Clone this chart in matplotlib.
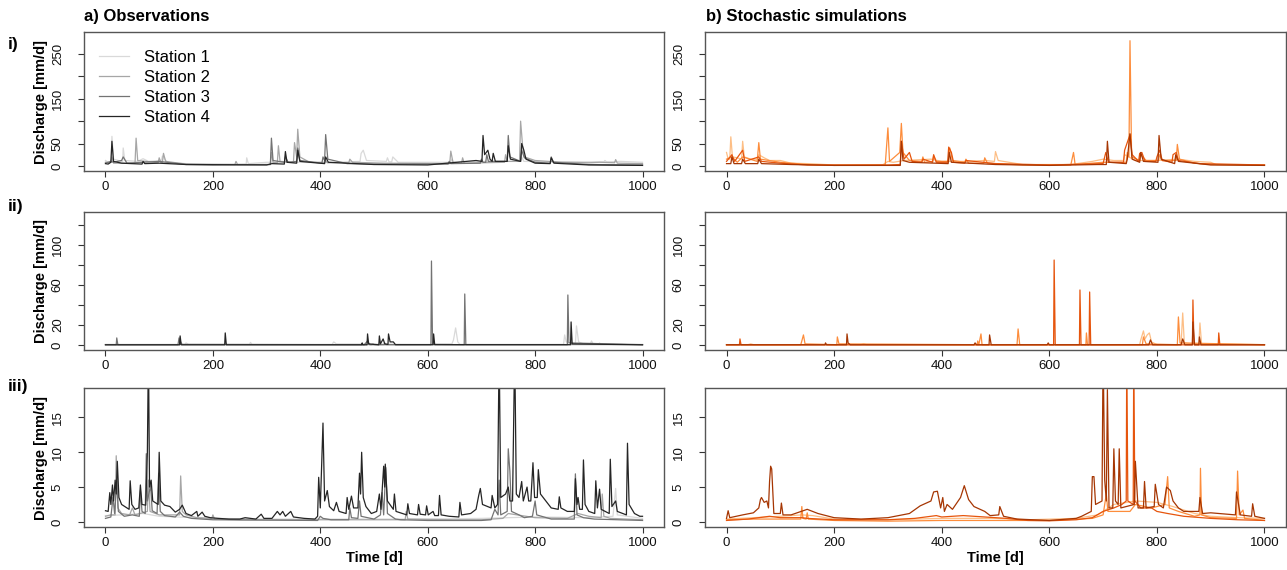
import numpy as np
import matplotlib
matplotlib.use('Agg')
import matplotlib.pyplot as plt

plt.rcParams['font.family'] = ['Liberation Sans', 'DejaVu Sans']

days_ticks = [0, 200, 400, 600, 800, 1000]
station_names = ['Station 1', 'Station 2', 'Station 3', 'Station 4']
obs_colors = ['#d9d9d9', '#a6a6a6', '#737373', '#252525']
sim_colors = ['#fdbe85', '#fd8d3c', '#e6550d', '#a63603']

# (day, discharge) knots, one list per station
# --- row i ---
obs_i_s1 = [(0, 12), (5, 8), (11, 8), (12, 66), (15, 15), (30, 10), (32, 10), (33, 40), (36, 12), (60, 10),
            (70, 16), (80, 10), (104, 12), (106, 22), (115, 8), (150, 5), (200, 3), (262, 4), (263, 18),
            (266, 5), (300, 8), (360, 8), (400, 7), (474, 10), (476, 28), (480, 35), (486, 12), (523, 10),
            (525, 18), (528, 9), (533, 9), (535, 20), (545, 8), (643, 8), (645, 15), (648, 8), (700, 10),
            (772, 10), (775, 20), (779, 10), (850, 9), (900, 9), (928, 9), (930, 12), (933, 9), (960, 10),
            (1000, 8)]
obs_i_s2 = [(0, 8), (10, 8), (12, 20), (15, 6), (55, 6), (57, 62), (60, 12), (98, 7), (100, 18), (103, 8),
            (106, 8), (108, 28), (112, 10), (150, 4), (241, 3), (243, 10), (246, 3), (307, 3), (309, 30),
            (312, 8), (320, 7), (322, 45), (325, 10), (350, 8), (352, 52), (356, 20), (358, 82), (362, 20),
            (380, 8), (408, 8), (410, 12), (413, 7), (453, 7), (455, 15), (460, 8), (520, 6), (641, 5),
            (643, 33), (647, 8), (663, 6), (665, 18), (668, 6), (743, 8), (745, 25), (748, 10), (771, 10),
            (773, 100), (777, 40), (780, 20), (800, 12), (850, 8), (900, 7), (920, 8), (948, 7), (950, 14),
            (953, 6), (1000, 5)]
obs_i_s3 = [(0, 6), (10, 10), (15, 8), (30, 12), (33, 20), (40, 6), (100, 10), (150, 3), (200, 2), (307, 3),
            (309, 62), (312, 12), (333, 8), (335, 20), (340, 8), (356, 10), (358, 40), (362, 12), (403, 6),
            (405, 20), (408, 12), (410, 70), (414, 15), (450, 5), (500, 4), (638, 4), (640, 10), (643, 5),
            (698, 6), (700, 15), (703, 8), (708, 8), (710, 25), (713, 10), (748, 10), (750, 68), (753, 20),
            (773, 10), (775, 35), (780, 18), (800, 8), (828, 6), (830, 20), (834, 8), (900, 3), (1000, 2)]
obs_i_s4 = [(0, 5), (5, 4), (10, 8), (12, 55), (15, 10), (30, 6), (68, 4), (70, 10), (73, 5), (100, 6),
            (150, 3), (300, 2), (310, 5), (333, 4), (335, 32), (338, 8), (356, 6), (358, 35), (362, 10),
            (408, 5), (410, 20), (415, 8), (500, 3), (600, 2), (690, 12), (701, 10), (703, 68), (706, 25),
            (712, 35), (716, 15), (720, 10), (722, 28), (726, 10), (748, 10), (750, 45), (754, 15), (773, 10),
            (775, 50), (779, 35), (783, 15), (800, 6), (828, 5), (830, 18), (835, 6), (900, 2), (1000, 1)]

sim_i_s1 = [(0, 30), (3, 15), (6, 15), (8, 65), (11, 20), (20, 18), (28, 15), (30, 55), (33, 20), (45, 15),
            (58, 15), (60, 25), (70, 18), (80, 12), (100, 12), (120, 6), (150, 5), (200, 2), (290, 2), (300, 10),
            (310, 8), (330, 12), (380, 15), (400, 10), (445, 10), (480, 12), (498, 10), (500, 32), (505, 12),
            (550, 3), (640, 3), (680, 10), (700, 15), (720, 12), (738, 12), (740, 25), (760, 12), (800, 12),
            (840, 15), (870, 10), (900, 8), (910, 3), (1000, 2)]
sim_i_s2 = [(0, 15), (10, 20), (20, 8), (30, 20), (57, 10), (60, 52), (63, 15), (100, 8), (150, 3), (200, 1),
            (295, 2), (300, 85), (303, 10), (322, 30), (325, 95), (328, 30), (340, 12), (363, 10), (365, 20),
            (368, 8), (383, 10), (385, 22), (390, 10), (413, 10), (415, 40), (420, 12), (443, 8), (445, 15),
            (450, 6), (478, 6), (480, 18), (485, 6), (550, 2), (640, 2), (645, 30), (648, 3), (700, 8),
            (743, 8), (745, 30), (748, 20), (750, 280), (753, 20), (768, 12), (770, 25), (780, 12), (803, 12),
            (805, 25), (810, 12), (836, 12), (838, 48), (842, 15), (870, 6), (900, 3), (1000, 2)]
sim_i_s3 = [(0, 10), (10, 25), (15, 10), (30, 35), (34, 10), (60, 20), (65, 10), (100, 6), (150, 2), (300, 2),
            (323, 3), (325, 55), (330, 15), (340, 30), (345, 10), (363, 8), (365, 15), (383, 8), (385, 25),
            (390, 8), (411, 8), (413, 42), (418, 30), (422, 8), (443, 6), (445, 12), (500, 5), (600, 2),
            (700, 5), (705, 30), (710, 8), (738, 8), (740, 35), (750, 70), (754, 25), (766, 10), (768, 28),
            (772, 30), (778, 10), (798, 10), (800, 20), (805, 35), (810, 12), (828, 8), (830, 25), (836, 30),
            (840, 12), (880, 5), (1000, 2)]
sim_i_s4 = [(0, 5), (8, 5), (10, 20), (14, 5), (28, 5), (30, 15), (35, 5), (58, 5), (60, 15), (65, 5),
            (120, 3), (200, 1), (300, 1), (323, 1), (325, 55), (328, 12), (340, 8), (412, 5), (414, 30),
            (418, 8), (500, 3), (600, 1), (690, 3), (706, 3), (708, 55), (711, 8), (743, 5), (745, 15),
            (750, 72), (754, 15), (768, 8), (770, 30), (775, 10), (802, 8), (804, 68), (808, 15), (833, 5),
            (835, 25), (840, 10), (900, 2), (1000, 1)]

# --- row ii ---
obs_ii_s1 = [(0, 0.5), (148, 0.5), (150, 2), (155, 0.5), (268, 0.5), (270, 2.5), (273, 0.5), (422, 0.5),
             (425, 3), (430, 1), (600, 0.5), (645, 1), (648, 5), (652, 17), (656, 3), (660, 0.5), (853, 0.5),
             (855, 10), (858, 3), (875, 1), (877, 19), (881, 3), (890, 1), (903, 1), (905, 4), (908, 1),
             (918, 0.5), (920, 2), (922, 0.5), (1000, 0.5)]
obs_ii_s2 = [(0, 0.3), (138, 0.3), (140, 3), (143, 0.3), (496, 0.3), (498, 1), (500, 0.3), (518, 0.3),
             (520, 2), (523, 0.3), (1000, 0.3)]
obs_ii_s3 = [(0, 0.2), (20, 0.2), (21, 7), (23, 0.2), (135, 0.2), (137, 7), (139, 0.5), (482, 0.2), (488, 4),
             (492, 0.2), (606, 0.2), (607, 84), (609, 0.5), (668, 0.2), (669, 51), (671, 0.3), (860, 0.2),
             (861, 50), (863, 2), (1000, 0.2)]
obs_ii_s4 = [(0, 0.1), (138, 0.1), (139, 9), (141, 0.1), (222, 0.1), (223, 12), (225, 0.1), (477, 0.1),
             (478, 2), (479, 0.1), (487, 0.1), (488, 11), (490, 1), (509, 0.1), (510, 9), (512, 1), (517, 6),
             (520, 1), (526, 0.5), (527, 11), (530, 3), (536, 3), (540, 0.2), (610, 0.2), (611, 11), (613, 0.2),
             (866, 0.2), (867, 23), (869, 1), (1000, 0.1)]

sim_ii_s1 = [(0, 0.3), (40, 0.3), (45, 1), (50, 0.3), (250, 0.3), (255, 1), (260, 0.3), (768, 0.3), (770, 5),
             (775, 14), (778, 6), (782, 10), (786, 12), (790, 3), (800, 0.3), (845, 0.3), (848, 32), (851, 2),
             (878, 0.3), (880, 22), (883, 1), (1000, 0.3)]
sim_ii_s2 = [(0, 0.2), (138, 0.2), (140, 4), (143, 10), (146, 1), (205, 0.2), (206, 8), (209, 1), (466, 0.2),
             (467, 4), (469, 0.2), (473, 11), (475, 0.2), (540, 0.2), (542, 16), (545, 0.2), (668, 0.2),
             (669, 12), (671, 0.2), (773, 0.2), (775, 8), (780, 1), (838, 0.2), (840, 28), (843, 2), (1000, 0.2)]
sim_ii_s3 = [(0, 0.1), (24, 0.1), (25, 6), (27, 0.1), (608, 0.1), (609, 85), (611, 0.1), (656, 0.1), (657, 55),
             (659, 0.1), (674, 0.1), (675, 53), (677, 0.1), (866, 0.1), (867, 45), (869, 0.1), (914, 0.1),
             (915, 12), (917, 0.1), (1000, 0.1)]
sim_ii_s4 = [(0, 0.1), (183, 0.1), (184, 2), (186, 0.1), (223, 0.1), (224, 11), (226, 2), (230, 0.1), (460, 0.1),
             (462, 2), (465, 0.1), (488, 0.1), (489, 10), (492, 0.1), (596, 0.1), (598, 2), (600, 0.1),
             (785, 0.1), (788, 5), (792, 0.1), (845, 0.1), (848, 6), (852, 0.1), (866, 0.1), (867, 23),
             (870, 0.1), (878, 0.1), (879, 8), (882, 0.1), (1000, 0.1)]

# --- row iii ---
obs_iii_s1 = [(0, 0.9), (30, 1.0), (70, 1.2), (100, 0.8), (200, 0.5), (300, 0.4), (400, 0.4), (500, 0.4),
              (600, 0.4), (700, 0.5), (800, 0.7), (900, 0.6), (945, 0.8), (950, 4.8), (953, 1), (1000, 0.5)]
obs_iii_s2 = [(0, 0.8), (10, 1), (18, 1), (20, 9.5), (23, 2), (30, 1.2), (45, 1), (50, 2), (55, 1), (78, 1.5),
              (80, 6), (83, 1.5), (100, 1), (138, 1), (140, 6.6), (143, 1.5), (150, 1), (170, 0.6), (198, 0.5),
              (200, 1.0), (203, 0.4), (250, 0.3), (350, 0.3), (400, 0.3), (500, 0.3), (558, 0.3), (560, 1.5),
              (563, 0.4), (650, 0.3), (700, 0.3), (740, 0.5), (750, 1.2), (800, 0.6), (860, 0.5), (880, 1.2),
              (900, 0.8), (923, 0.6), (925, 4), (928, 0.8), (940, 0.5), (1000, 0.3)]
obs_iii_s3 = [(0, 0.5), (10, 0.7), (14, 3.5), (17, 1.2), (21, 5.8), (24, 1.5), (35, 0.8), (50, 1), (63, 0.8),
              (65, 4.5), (68, 1.5), (74, 1.2), (76, 9.8), (78, 3), (84, 5.2), (87, 1.6), (96, 1.2), (99, 7),
              (102, 1.5), (110, 0.9), (130, 0.7), (138, 1.4), (145, 0.8), (160, 0.5), (200, 0.3), (300, 0.25),
              (395, 0.2), (400, 0.8), (405, 0.5), (420, 0.3), (453, 0.3), (455, 2.0), (458, 0.6), (470, 0.5),
              (473, 3), (476, 0.8), (500, 0.4), (512, 1), (515, 4.2), (518, 1), (522, 7.8), (525, 1.2),
              (540, 0.4), (550, 0.3), (600, 0.2), (700, 0.2), (718, 0.3), (725, 1.8), (731, 1), (733, 6),
              (736, 1), (748, 1.5), (750, 10.5), (753, 7.3), (756, 1.5), (770, 1), (780, 0.6), (795, 0.8),
              (800, 3), (803, 1), (830, 0.4), (873, 0.4), (875, 6.9), (878, 1), (890, 0.6), (910, 0.4),
              (1000, 0.2)]
obs_iii_s4 = [(0, 1.6), (5, 1.5), (8, 4.2), (10, 2.5), (13, 5.3), (15, 3), (18, 6.0), (20, 4), (22, 8.7),
              (25, 3.5), (30, 2.5), (44, 1.8), (46, 5.9), (49, 2.5), (55, 1.8), (62, 2), (65, 5.3), (68, 2.5),
              (75, 2.4), (78, 10), (80, 25), (82, 5), (85, 6), (88, 3), (98, 2.5), (100, 10), (103, 3),
              (110, 2.4), (120, 2.2), (130, 1.4), (138, 1.8), (143, 2.4), (150, 1.2), (160, 0.9), (170, 1.5),
              (172, 0.8), (180, 1.4), (185, 0.8), (195, 0.6), (210, 0.5), (230, 0.4), (250, 0.4), (260, 0.6),
              (280, 0.4), (290, 1.1), (295, 0.5), (310, 0.5), (320, 1.5), (325, 1.0), (330, 1.5), (335, 0.8),
              (345, 1.5), (350, 0.7), (370, 0.5), (390, 0.4), (395, 0.8), (397, 6.4), (400, 2), (405, 14.2),
              (408, 3), (413, 4.5), (417, 2.2), (425, 1.6), (430, 2.8), (435, 1.5), (448, 1.2), (450, 3.5),
              (453, 1.8), (458, 3.7), (462, 2), (470, 2), (473, 7), (475, 4), (477, 10), (480, 3.5), (485, 2.2),
              (490, 1.7), (495, 1.2), (505, 1.5), (510, 4.0), (513, 1.8), (518, 8), (520, 5), (521, 8.3),
              (525, 3), (536, 1.8), (538, 4), (541, 1.5), (561, 1.0), (563, 2.6), (566, 1.2), (581, 1.0),
              (583, 2.5), (586, 1.1), (596, 1.0), (598, 2.3), (601, 1.0), (610, 1.5), (613, 0.9), (620, 0.9),
              (622, 3.8), (625, 1.0), (640, 0.8), (658, 0.7), (660, 2.8), (663, 1.0), (680, 1.2), (690, 1.8),
              (695, 3.8), (698, 4.8), (702, 2.5), (718, 2), (720, 3.8), (725, 2), (730, 2.5), (733, 25),
              (736, 3.5), (745, 4), (750, 5), (753, 3), (758, 3), (762, 25), (765, 4), (770, 3.5), (775, 5.8),
              (778, 3), (785, 5), (788, 3), (792, 3), (796, 8.5), (799, 3.5), (804, 3.5), (806, 7.5), (810, 4),
              (815, 3.5), (820, 3.0), (830, 2), (843, 1.8), (845, 3.6), (848, 2), (860, 1.5), (873, 1.5),
              (875, 6.2), (878, 2.5), (880, 3.5), (883, 1.8), (888, 1.8), (890, 8.9), (893, 2.5), (900, 1.5),
              (911, 1.2), (913, 5.9), (916, 2), (920, 4.7), (923, 1.8), (938, 1.2), (940, 9), (943, 2.2),
              (950, 3), (953, 1.5), (970, 1), (972, 11.3), (975, 2.5), (985, 1.2), (995, 0.8), (1000, 0.8)]

sim_iii_s1 = [(0, 0.4), (50, 0.6), (100, 0.8), (140, 1.0), (160, 0.9), (200, 0.4), (300, 0.3), (400, 0.5),
              (500, 0.5), (560, 0.3), (650, 0.5), (690, 1), (720, 2.5), (760, 3), (800, 2.8), (830, 2.2),
              (870, 1.2), (900, 0.8), (950, 0.6), (1000, 0.5)]
sim_iii_s2 = [(0, 0.3), (50, 0.4), (100, 0.4), (138, 0.4), (140, 2.2), (142, 0.5), (148, 0.4), (150, 1.3),
              (152, 0.4), (200, 0.2), (300, 0.1), (400, 0.2), (500, 0.2), (600, 0.2), (680, 0.5), (700, 1),
              (706, 4), (709, 1.5), (750, 1.5), (760, 2.5), (790, 2), (815, 2.5), (820, 6.5), (823, 2),
              (840, 1.5), (870, 0.8), (880, 1), (881, 7.7), (883, 1), (900, 0.6), (948, 0.5), (950, 7.3),
              (953, 1), (960, 1.7), (963, 0.5), (1000, 0.2)]
sim_iii_s3 = [(0, 0.2), (40, 0.4), (80, 0.8), (100, 0.6), (140, 0.6), (150, 0.5), (200, 0.3), (300, 0.3),
              (350, 0.5), (390, 0.9), (400, 0.7), (440, 0.9), (480, 0.7), (520, 0.5), (560, 0.2), (600, 0.15),
              (650, 0.3), (680, 0.6), (700, 1.5), (720, 2), (735, 2.5), (743, 3), (744, 25), (746, 3),
              (756, 2.5), (757, 25), (759, 3), (770, 2), (790, 2), (800, 1.5), (820, 1.2), (850, 0.8),
              (900, 0.5), (950, 0.3), (1000, 0.2)]
sim_iii_s4 = [(0, 0.5), (3, 1.6), (6, 0.6), (30, 1.0), (50, 1.3), (60, 2.0), (63, 3.2), (65, 3.5), (70, 2.8),
              (75, 3.0), (78, 2.0), (80, 5.8), (82, 8.0), (84, 7.6), (88, 1.2), (100, 1.2), (102, 2.7),
              (105, 1.0), (120, 1.0), (150, 1.8), (170, 1.2), (200, 0.6), (250, 0.4), (300, 0.6), (340, 1.2),
              (360, 2.3), (380, 3.0), (385, 4.3), (392, 4.4), (398, 2.0), (402, 3.5), (405, 1.5), (410, 2.5),
              (420, 1.8), (435, 3.5), (442, 5.2), (450, 3.2), (460, 2.2), (480, 1.5), (490, 0.9), (506, 1.0),
              (508, 2.2), (515, 0.8), (540, 0.4), (600, 0.2), (650, 0.5), (660, 0.8), (678, 1.5), (680, 6.5),
              (683, 6.5), (686, 2.5), (698, 3.0), (700, 25), (703, 6), (706, 3), (708, 19), (711, 2), (718, 2),
              (720, 10.5), (723, 3), (728, 2.5), (730, 10.5), (733, 2), (758, 2.5), (760, 8.7), (765, 2),
              (775, 2), (777, 5.8), (780, 2), (795, 2.2), (797, 5.4), (803, 2.5), (812, 2), (818, 5), (825, 4.5),
              (830, 3), (840, 2), (850, 1.5), (878, 1.5), (880, 3.5), (885, 1.2), (900, 1.3), (946, 1.0),
              (948, 4.3), (955, 1), (976, 0.8), (978, 2.6), (982, 0.8), (1000, 0.5)]

obs_rows = [[obs_i_s1, obs_i_s2, obs_i_s3, obs_i_s4],
            [obs_ii_s1, obs_ii_s2, obs_ii_s3, obs_ii_s4],
            [obs_iii_s1, obs_iii_s2, obs_iii_s3, obs_iii_s4]]
sim_rows = [[sim_i_s1, sim_i_s2, sim_i_s3, sim_i_s4],
            [sim_ii_s1, sim_ii_s2, sim_ii_s3, sim_ii_s4],
            [sim_iii_s1, sim_iii_s2, sim_iii_s3, sim_iii_s4]]

row_ylim = [(-11.5, 299.5), (-5.1, 133.1), (-0.74, 19.24)]
row_yticks = [[0, 50, 100, 150, 200, 250], [0, 20, 40, 60, 80, 100, 120], [0, 5, 10, 15]]
row_ylabels = [['0', '50', '', '150', '', '250'], ['0', '20', '', '60', '', '100', ''], ['0', '5', '10', '15']]
row_names = ['i)', 'ii)', 'iii)']
row_name_y = [45, 206, 386]

W, H = 1287, 570
fig = plt.figure(figsize=(W / 100, H / 100), dpi=100)

col_x = [(84, 664), (705, 1286)]
row_y = [(32, 171), (212, 350), (388, 527)]
cond = ['Liberation Sans Narrow', 'Liberation Sans', 'DejaVu Sans']

for r in range(3):
    for c in range(2):
        x0, x1 = col_x[c]
        y0, y1 = row_y[r]
        ax = fig.add_axes([x0 / W, 1 - y1 / H, (x1 - x0) / W, (y1 - y0) / H])
        series = obs_rows[r] if c == 0 else sim_rows[r]
        colors = obs_colors if c == 0 else sim_colors
        for k, knots in enumerate(series):
            d = np.array([p[0] for p in knots])
            q = np.array([p[1] for p in knots])
            ax.plot(d, q, color=colors[k], lw=0.9, label=station_names[k])
        ax.set_xlim(-40, 1040)
        ax.set_ylim(*row_ylim[r])
        ax.set_xticks(days_ticks)
        ax.set_xticklabels([str(t) for t in days_ticks])
        ax.set_yticks(row_yticks[r])
        ax.set_yticklabels(row_ylabels[r], rotation=90, va='center')
        ax.tick_params(axis='both', direction='out', length=4.5, width=0.8, color='#333333',
                       labelsize=9.5, labelcolor='#111111')
        ax.tick_params(axis='y', pad=10)
        ax.tick_params(axis='x', pad=3)
        for s in ax.spines.values():
            s.set_color('#555555')
            s.set_linewidth(1.0)
        if r == 2:
            ax.set_xlabel('Time [d]', fontsize=10.5, fontweight='bold', labelpad=1)
        if c == 0:
            fig.text(41 / W, 1 - (y0 + y1) / 2 / H, 'Discharge [mm/d]', rotation=90, fontsize=10.5,
                     fontweight='bold', ha='center', va='center')
            fig.text(8 / W, 1 - row_name_y[r] / H, row_names[r], fontsize=12.5, fontweight='bold',
                     family=cond, ha='left', va='center')
        if r == 0 and c == 0:
            ax.legend(loc='upper left', bbox_to_anchor=(0.005, 0.955), frameon=False, fontsize=12,
                      handlelength=1.8, handletextpad=0.9, labelspacing=0.3, borderaxespad=0.3)

fig.text(84 / W, 1 - 17 / H, 'a) Observations', fontsize=12, fontweight='bold', family=cond,
         ha='left', va='center')
fig.text(706 / W, 1 - 17 / H, 'b) Stochastic simulations', fontsize=12, fontweight='bold', family=cond,
         ha='left', va='center')

fig.savefig('out.png', dpi=100)
